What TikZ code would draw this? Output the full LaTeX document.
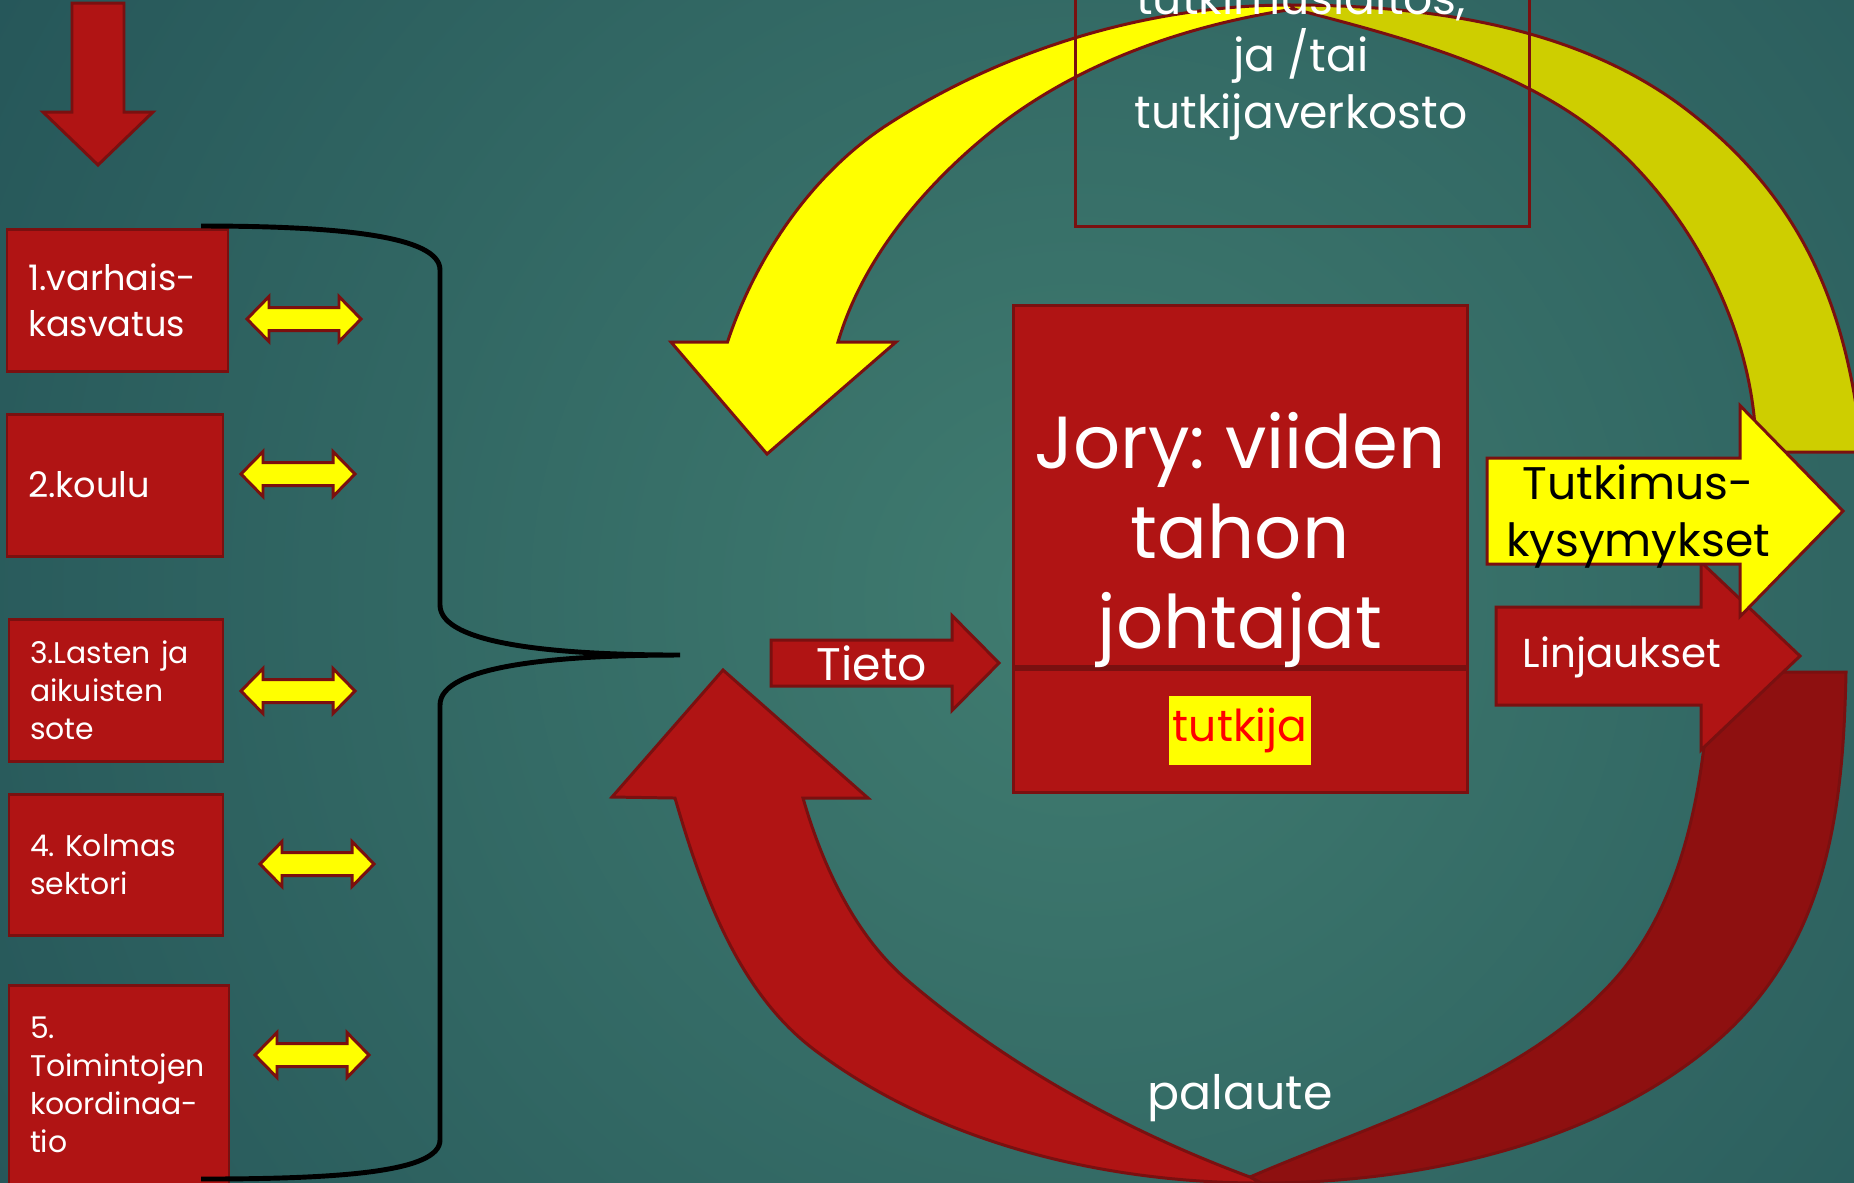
\documentclass[tikz,border=0pt]{standalone}
\usepackage{fontspec}
\setmainfont{Poppins}
\usetikzlibrary{positioning}
\frenchspacing

\definecolor{bglight}{RGB}{64,124,112}
\definecolor{bgdark}{RGB}{18,58,72}
\definecolor{redfill}{RGB}{176,20,20}
\definecolor{reddeep}{RGB}{142,16,16}
\definecolor{redline}{RGB}{122,16,16}
\definecolor{yelfill}{RGB}{255,255,0}
\definecolor{yeldeep}{RGB}{206,206,0}
\definecolor{tutred}{RGB}{255,0,0}

\newcommand{\fsz}[2]{\fontsize{#1}{#2}\selectfont}

\begin{document}
\begin{tikzpicture}[x=1cm,y=-1cm,
    shape line/.style={draw=redline,line width=0.85pt},
    sector/.style={shape line,fill=redfill,text=white,align=left,
      inner xsep=0.21cm,inner ysep=0pt,font=\fsz{10}{13.1}},
    sector small/.style={sector,font=\fsz{8.5}{10.8}},
    duo/.style={shape line,fill=yelfill},
    redblock/.style={shape line,fill=redfill},
    redback/.style={shape line,fill=reddeep},
    yelblock/.style={shape line,fill=yelfill},
    yelback/.style={shape line,fill=yeldeep},
    jorybox/.style={shape line,fill=redfill,minimum width=4.54cm,inner sep=0pt},
    label white/.style={text=white,align=center,inner sep=0pt},
    brace/.style={draw=black,line width=1.4pt}]

\useasboundingbox (0,0) rectangle (18.54,11.82);
\clip (0,0) rectangle (18.54,11.82);
\shade[inner color=bglight,outer color=bgdark] (10.8,6.0) circle (22);

% yellow loop: back half, then front half with head
\path[yelback] (12.90,0.05) .. controls (14.27,0.05) and (15.78,0.26) .. (16.87,1.10)
  .. controls (18.06,2.015) and (18.48,3.13) .. (18.62,4.52) -- (17.56,4.52)
  .. controls (17.56,3.40) and (16.98,2.22) .. (16.15,1.47)
  .. controls (15.29,0.696) and (14.06,0.383) .. (12.94,0.09) -- cycle;
\path[yelblock] (7.275,3.42) .. controls (7.56,2.56) and (8.13,1.72) .. (8.90,1.23)
  .. controls (10.07,0.48) and (11.51,0.05) .. (12.90,0.05) -- (12.94,0.09)
  .. controls (11.88,0.248) and (10.815,0.613) .. (9.97,1.27)
  .. controls (9.27,1.82) and (8.63,2.57) .. (8.38,3.42)
  -- (8.96,3.42) -- (7.67,4.54) -- (6.71,3.42) -- cycle;

% research institute
\node[shape line,minimum width=4.54cm,minimum height=2.46cm] (inst) at (13.02,1.03) {};
\node[label white,anchor=base,font=\fsz{13}{16.2}] (insttext) at (13.01,1.28)
  {tutkimuslaitos,\\ja /tai\\tutkijaverkosto};

% red loop: back half, then front half with head
\path[redback] (12.61,11.83) .. controls (14.15,11.83) and (15.85,11.47) .. (17.05,10.51)
  .. controls (18.30,9.51) and (18.43,8.07) .. (18.46,6.72) -- (17.10,6.72)
  .. controls (17.05,7.79) and (16.86,8.99) .. (16.15,9.79)
  .. controls (15.23,10.82) and (13.77,11.22) .. (12.50,11.77) -- cycle;
\path[redblock] (6.75,7.98) .. controls (7.02,8.91) and (7.38,9.93) .. (8.16,10.51)
  .. controls (9.40,11.44) and (11.06,11.83) .. (12.61,11.83) -- (12.50,11.77)
  .. controls (11.26,11.31) and (10.06,10.65) .. (9.06,9.79)
  .. controls (8.54,9.34) and (8.22,8.64) .. (8.03,7.98)
  -- (8.68,7.98) -- (7.23,6.70) -- (6.12,7.97) -- cycle;
\node[label white,anchor=base,font=\fsz{13.5}{16}] (palaute) at (12.40,11.09) {palaute};

% steering group
\node[jorybox,minimum height=3.61cm] (jory) at (12.40,4.855) {};
\node[jorybox,minimum height=1.23cm,below=0pt of jory] (jorylow) {};
\node[label white,anchor=base,font=\fsz{21}{25.6}] (jorytext) at (12.40,6.48)
  {Jory: viiden\\tahon\\johtajat};
\node[fill=yelfill,text=tutred,inner xsep=1pt,minimum height=0.57cm,
  font=\fsz{12.5}{15}] (tutkija) at (jorylow) {tutkija};

% outgoing arrows
\path[redblock] (14.96,6.07) -- (17.01,6.07) -- (17.01,5.62) -- (18.00,6.56)
  -- (17.01,7.50) -- (17.01,7.05) -- (14.96,7.05) -- cycle;
\node[label white,font=\fsz{11.5}{14}] (linj) at (16.22,6.57) {Linjaukset};
\path[yelblock] (14.87,4.58) -- (17.40,4.58) -- (17.40,4.055) -- (18.43,5.11)
  -- (17.40,6.165) -- (17.40,5.64) -- (14.87,5.64) -- cycle;
\node[align=center,inner sep=0pt,anchor=base,font=\fsz{13}{16.2}] (kys) at (16.38,5.56)
  {Tutkimus-\\kysymykset};

% incoming arrow
\path[redblock] (7.71,6.40) -- (9.52,6.40) -- (9.52,6.155) -- (9.99,6.63)
  -- (9.52,7.105) -- (9.52,6.86) -- (7.71,6.86) -- cycle;
\node[label white,font=\fsz{13}{16}] (tieto) at (8.72,6.63) {Tieto};

% the five sectors
\node[sector,text width=1.79cm,minimum height=1.42cm] (s1) at (1.175,3.00) {1.varhais-\\kasvatus};
\node[sector,text width=1.74cm,minimum height=1.42cm] (s2) at (1.15,4.85) {2.koulu};
\node[sector small,text width=1.72cm,minimum height=1.42cm] (s3) at (1.16,6.90) {3.Lasten ja\\aikuisten\\sote};
\node[sector small,text width=1.72cm,minimum height=1.41cm] (s4) at (1.16,8.645) {4. Kolmas\\sektori};
\node[sector small,text width=1.78cm,minimum height=1.99cm] (s5) at (1.19,10.845) {5.\\Toimintojen\\koordinaa-\\tio};

% two-way arrows
\foreach \x/\y in {2.47/3.19, 2.41/4.74, 2.41/6.91, 2.60/8.64, 2.55/10.55}
  \path[duo,shift={(\x,\y)}] (0,0) -- (0.22,-0.225) -- (0.22,-0.115) -- (0.92,-0.115)
    -- (0.92,-0.225) -- (1.14,0) -- (0.92,0.225) -- (0.92,0.115) -- (0.22,0.115)
    -- (0.22,0.225) -- cycle;

% brace
\coordinate (tip) at (6.80,6.55);
\draw[brace] (2.01,2.26) .. controls (3.40,2.26) and (4.40,2.36) .. (4.40,2.70)
  -- (4.40,6.05) .. controls (4.40,6.45) and (5.60,6.55) .. (tip)
  .. controls (5.60,6.55) and (4.40,6.65) .. (4.40,7.05)
  -- (4.40,11.40) .. controls (4.40,11.72) and (3.40,11.79) .. (2.01,11.79);

% down arrow
\path[redblock] (0.72,0.03) -- (1.24,0.03) -- (1.24,1.12) -- (1.53,1.12)
  -- (0.98,1.65) -- (0.43,1.12) -- (0.72,1.12) -- cycle;
\end{tikzpicture}
\end{document}
